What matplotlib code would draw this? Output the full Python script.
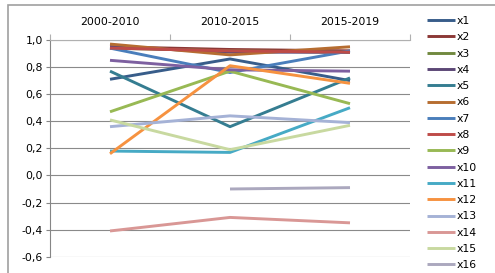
import numpy as np
import matplotlib
matplotlib.use('Agg')
import matplotlib.pyplot as plt
from matplotlib.ticker import FixedLocator, FuncFormatter
from matplotlib.patches import Rectangle

# Periods on the (top) category axis
periods = ['2000-2010', '2010-2015', '2015-2019']

# One value per period for every series
x1 = [0.71, 0.86, 0.70]
x2 = [0.95, 0.93, 0.92]
x3 = [0.94, 0.92, 0.91]
x4 = [0.95, 0.91, 0.91]
x5 = [0.77, 0.36, 0.72]
x6 = [0.97, 0.89, 0.95]
x7 = [0.94, 0.76, 0.92]
x8 = [0.94, 0.92, 0.91]
x9 = [0.47, 0.77, 0.53]
x10 = [0.85, 0.78, 0.77]
x11 = [0.18, 0.17, 0.50]
x12 = [0.16, 0.81, 0.68]
x13 = [0.36, 0.44, 0.39]
x14 = [-0.41, -0.31, -0.35]
x15 = [0.41, 0.19, 0.37]
x16 = [np.nan, -0.10, -0.09]

series = [x1, x2, x3, x4, x5, x6, x7, x8, x9, x10, x11, x12, x13, x14, x15, x16]
names = ['x%d' % (i + 1) for i in range(len(series))]

# Excel 2007 style palette
colors = ['#385D8A', '#8C3836', '#71893F', '#5C4776', '#357D91', '#B66D31',
          '#4A7EBB', '#BE4B48', '#98B954', '#7D60A0', '#46AAC5', '#F69240',
          '#A5B2D6', '#D99795', '#C8D9A0', '#ABA8BE']

fig = plt.figure(figsize=(4.95, 2.73), dpi=100)
ax = fig.add_axes([50 / 495, 16.3 / 273, 360 / 495, 216.7 / 273])

xs = np.arange(len(periods))
for vals, name, col in zip(series, names, colors):
    ax.plot(xs, vals, color=col, lw=2.1, label=name, solid_capstyle='butt')

# y axis
ax.set_ylim(-0.6, 1.0)
ax.set_yticks(np.arange(-0.6, 1.01, 0.2))
ax.yaxis.set_major_formatter(FuncFormatter(
    lambda v, p: ('%.1f' % (0.0 if abs(v) < 1e-9 else v)).replace('.', ',')))
ax.tick_params(axis='y', length=3, width=0.8, color='#868686', pad=2,
               labelsize=7.8, labelcolor='black')
ax.grid(axis='y', color='#8a8a8a', lw=0.8)
ax.set_axisbelow(True)

# category axis on top
ax.set_xlim(-0.5, 2.5)
ax.xaxis.tick_top()
ax.set_xticks(xs)
ax.set_xticklabels(periods)
ax.xaxis.set_minor_locator(FixedLocator([-0.5, 0.5, 1.5, 2.5]))
ax.tick_params(axis='x', which='major', length=0, pad=9.5, labelsize=7.8)
ax.tick_params(axis='x', which='minor', length=4, width=0.8, color='#b0b0b0',
               top=True, bottom=False)

for side in ['right', 'bottom']:
    ax.spines[side].set_visible(False)
ax.spines['left'].set_color('#868686')
ax.spines['top'].set_color('#b0b0b0')
ax.spines['left'].set_linewidth(0.8)
ax.spines['top'].set_linewidth(0.8)

# legend at right
fig.legend(loc='upper left', bbox_to_anchor=(427 / 495, 1 - 16 / 273),
           frameon=False, fontsize=7.8, handlelength=2.6, handletextpad=0.15,
           labelspacing=0.58, borderaxespad=0, borderpad=0)

# chart area border
fig.patches.append(Rectangle((8 / 495, -0.1), 1.2, 0.1 + 1 - 5 / 273,
                             transform=fig.transFigure, fill=False,
                             edgecolor='#a0a0a0', lw=1.2))

fig.savefig('out.png', dpi=100)
